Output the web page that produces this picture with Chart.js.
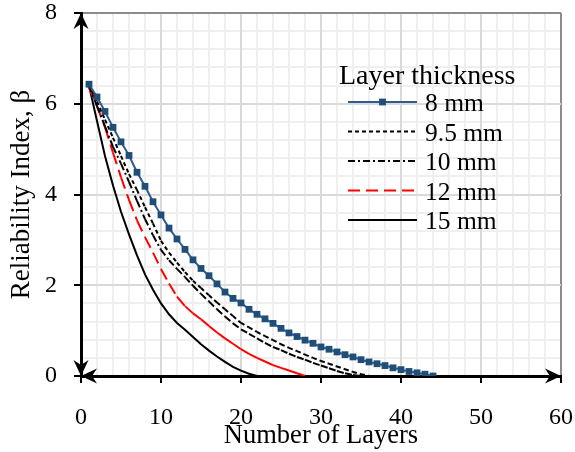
<!DOCTYPE html>
<html>
<head>
<meta charset="utf-8">
<script src="https://cdn.jsdelivr.net/npm/chart.js@4/dist/chart.umd.min.js"></script>
<style>
  html, body { margin: 0; padding: 0; background: #fff; }
  #wrap { width: 575px; height: 452px; }
</style>
</head>
<body>
<div id="wrap"><canvas id="myChart" width="575" height="452"></canvas></div>
<script>
// data
const layers = [1,2,3,4,5,6,7,8,9,10,11,12,13,14,15,16,17,18,19,20,21,22,
                23,24,25,26,27,28,29,30,31,32,33,34,35,36,37,38,39,40,41,42,43,44];
const beta8 = [6.43,6.15,5.83,5.48,5.16,4.86,4.49,4.18,3.84,3.55,3.26,3.02,2.79,2.56,2.37,2.21,2.03,1.85,1.71,1.61,1.47,1.36,
               1.26,1.16,1.05,0.95,0.87,0.79,0.72,0.64,0.59,0.53,0.47,0.42,0.36,0.31,0.27,0.23,0.18,0.14,0.10,0.07,0.04,0.00];
const beta95 = [6.42,6.05,5.65,5.25,4.85,4.45,4.10,3.72,3.36,2.98,2.72,2.50,2.29,2.10,1.94,1.78,1.62,1.47,1.32,1.17,1.07,0.97,
                0.88,0.79,0.70,0.62,0.55,0.47,0.40,0.33,0.27,0.21,0.15,0.09,0.04,0.00];
const beta10 = [6.40,5.95,5.50,5.05,4.68,4.28,3.86,3.46,3.10,2.78,2.55,2.36,2.18,1.99,1.81,1.64,1.47,1.31,1.16,1.03,0.93,0.83,
                0.73,0.64,0.57,0.49,0.42,0.36,0.29,0.23,0.17,0.11,0.06,0.02,0.00];
const beta12 = [6.35,5.95,5.48,4.92,4.38,3.88,3.43,3.06,2.72,2.36,2.04,1.75,1.54,1.38,1.25,1.10,0.96,0.83,0.71,0.59,0.49,0.40,
                0.32,0.24,0.18,0.12,0.06,0.00];
const beta15 = [6.40,5.62,4.85,4.20,3.62,3.12,2.66,2.24,1.90,1.60,1.36,1.17,1.02,0.86,0.70,0.56,0.43,0.31,0.20,0.12,0.05,0.00];
const seriesNames = ["8 mm", "9.5 mm", "10 mm", "12 mm", "15 mm"];
const xTicks = [0, 10, 20, 30, 40, 50, 60];
const yTicks = [0, 2, 4, 6, 8];
const xMinorTicks = [0,2,4,6,8,10,12,14,16,18,20,22,24,26,28,30,32,34,36,38,40,42,44,46,48,50,52,54,56,58,60];
const yMinorTicks = [0,0.4,0.8,1.2,1.6,2,2.4,2.8,3.2,3.6,4,4.4,4.8,5.2,5.6,6,6.4,6.8,7.2,7.6,8];

const SERIF = '"Liberation Serif", "Times New Roman", serif';
Chart.defaults.font.family = SERIF;
Chart.defaults.color = '#000';

const pts = ys => ys.map((y, i) => ({ x: layers[i], y: y }));
// Excel restarts the dash pattern on every segment
const restartDash = { borderDashOffset: c => (c.p0DataIndex % 2) * 0.001 };

const setTicks = arr => s => { s.ticks = arr.map(v => ({ value: v })); };
const noPad = s => { s.paddingTop = 0; s.paddingBottom = 0; s.paddingLeft = 0; s.paddingRight = 0; };

// axis arrows + legend
const decor = {
  id: 'decor',
  afterDraw(chart) {
    const ctx = chart.ctx;
    const xs = chart.scales.x, ys = chart.scales.y;
    const x0 = xs.getPixelForValue(0), x1 = xs.getPixelForValue(60);
    const y0 = ys.getPixelForValue(0), y1 = ys.getPixelForValue(8);
    ctx.save();
    ctx.fillStyle = '#000';
    function arrow(tx, ty, dx, dy) {
      // stealth arrow, tip at (tx,ty) pointing along (dx,dy)
      const L = 16, W = 7.5, N = 11;
      const px = -dy, py = dx;
      ctx.beginPath();
      ctx.moveTo(tx, ty);
      ctx.lineTo(tx - dx * L + px * W, ty - dy * L + py * W);
      ctx.lineTo(tx - dx * N, ty - dy * N);
      ctx.lineTo(tx - dx * L - px * W, ty - dy * L - py * W);
      ctx.closePath();
      ctx.fill();
    }
    arrow(x0, y1, 0, -1);
    arrow(x0, y0, 0, 1);
    arrow(x0, y0, -1, 0);
    arrow(x1, y0, 1, 0);

    // legend
    const lx = 348, lw = 69, tx = 425, top = 102, step = 29.5;
    ctx.textBaseline = 'alphabetic';
    ctx.textAlign = 'left';
    ctx.font = '28px ' + SERIF;
    ctx.fillText('Layer thickness', 339, 84);
    ctx.font = '25.5px ' + SERIF;
    chart.data.datasets.forEach((ds, i) => {
      const y = top + i * step;
      ctx.save();
      ctx.strokeStyle = ds.borderColor;
      ctx.lineWidth = ds.borderWidth;
      ctx.setLineDash(ds.borderDash || []);
      ctx.beginPath();
      ctx.moveTo(lx, y);
      ctx.lineTo(lx + lw, y);
      ctx.stroke();
      ctx.restore();
      if (ds.pointRadius > 0) {
        ctx.fillStyle = ds.pointBackgroundColor;
        const s = ds.pointRadius * Math.SQRT1_2;
        ctx.fillRect(lx + lw / 2 - s, y - s, 2 * s, 2 * s);
      }
      ctx.fillStyle = '#000';
      ctx.fillText(ds.label, tx, y + 9);
    });
    ctx.restore();
  }
};

new Chart(document.getElementById('myChart').getContext('2d'), {
  type: 'line',
  data: {
    datasets: [
      { label: seriesNames[0], data: pts(beta8), borderColor: '#2f5b8e', borderWidth: 2,
        pointStyle: 'rect', pointRadius: 4.8, pointBackgroundColor: '#1f4e79', pointBorderColor: '#1f4e79', pointBorderWidth: 0 },
      { label: seriesNames[1], data: pts(beta95), borderColor: '#000', borderWidth: 2, borderDash: [4, 3],
        pointRadius: 0, segment: restartDash },
      { label: seriesNames[2], data: pts(beta10), borderColor: '#000', borderWidth: 2, borderDash: [7, 3, 2, 3],
        pointRadius: 0, segment: restartDash },
      { label: seriesNames[3], data: pts(beta12), borderColor: '#ff0000', borderWidth: 2, borderDash: [12, 6],
        pointRadius: 0, segment: restartDash },
      { label: seriesNames[4], data: pts(beta15), borderColor: '#000', borderWidth: 2,
        pointRadius: 0 }
    ]
  },
  options: {
    responsive: false,
    devicePixelRatio: 1,
    animation: false,
    layout: { padding: { top: 13, right: 14, left: 0, bottom: 0 } },
    plugins: { legend: { display: false }, tooltip: { enabled: false } },
    scales: {
      xMinor: {
        type: 'linear', position: 'bottom', min: 0, max: 60, z: -1,
        afterBuildTicks: setTicks(xMinorTicks),
        ticks: { display: false },
        grid: { color: '#efefef', lineWidth: 2, drawTicks: false },
        border: { display: false },
        afterFit: s => { s.height = 0; noPad(s); }
      },
      yMinor: {
        type: 'linear', position: 'left', min: 0, max: 8, z: -1,
        afterBuildTicks: setTicks(yMinorTicks),
        ticks: { display: false },
        grid: { color: '#efefef', lineWidth: 2, drawTicks: false },
        border: { display: false },
        afterFit: s => { s.width = 0; noPad(s); }
      },
      x: {
        type: 'linear', position: 'bottom', min: 0, max: 60,
        afterBuildTicks: setTicks(xTicks),
        ticks: { font: { size: 24 }, color: '#000', padding: 20, maxRotation: 0 },
        grid: {
          color: c => (c.tick && c.tick.value === 60) ? '#8c8c8c' : '#d9d9d9',
          lineWidth: 2, tickColor: '#000', tickLength: 7, tickWidth: 2
        },
        border: { display: true, color: '#000', width: 3 },
        title: { display: true, text: 'Number of Layers', font: { size: 26.5 }, color: '#000', padding: { top: 0, bottom: 0 } },
        afterFit: s => { s.height = 76; noPad(s); }
      },
      y: {
        type: 'linear', position: 'left', min: 0, max: 8,
        afterBuildTicks: setTicks(yTicks),
        ticks: { font: { size: 24, lineHeight: 1 }, color: '#000', padding: 17 },
        grid: {
          color: c => (c.tick && c.tick.value === 8) ? '#8c8c8c' : '#d9d9d9',
          lineWidth: 2, tickColor: '#000', tickLength: 7, tickWidth: 2
        },
        border: { display: true, color: '#000', width: 3 },
        title: { display: true, text: 'Reliability Index, β', font: { size: 27 }, color: '#000', padding: { top: 6, bottom: 0 } },
        afterFit: s => { s.width = 81; noPad(s); }
      }
    }
  },
  plugins: [decor]
});
</script>
</body>
</html>
